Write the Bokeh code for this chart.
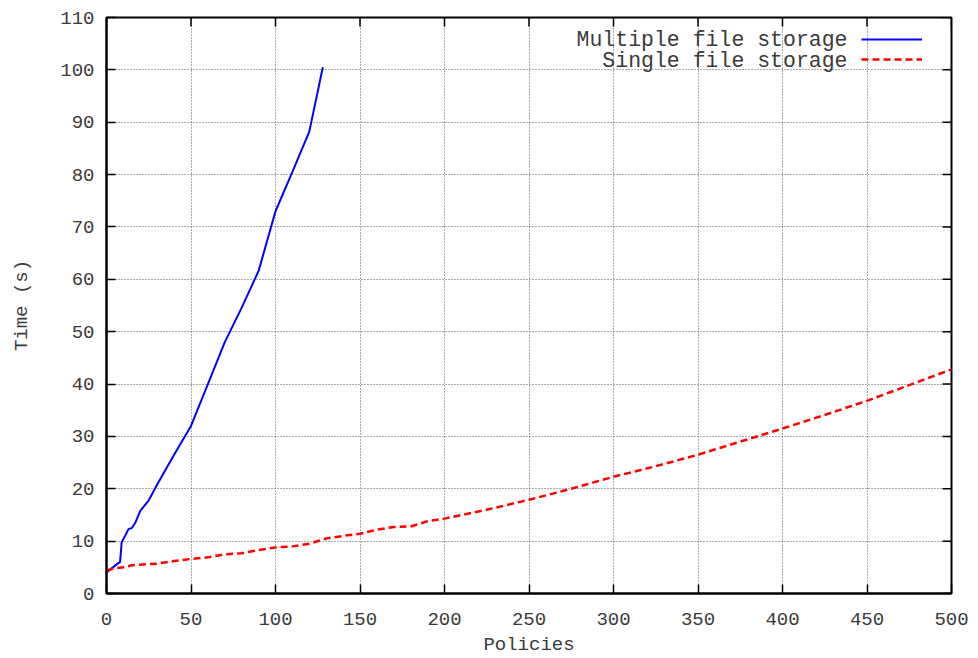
import math
from bokeh.plotting import figure
from bokeh.models import (Range1d, FixedTicker, Legend, LegendItem, Label)
from bokeh.core.properties import value
from bokeh.embed import file_html
from bokeh.resources import INLINE

# --- data ---
multi_x = [0, 3, 7, 8, 9, 11, 13, 15, 17, 20, 25, 30, 40, 50, 60, 70, 80, 90, 100, 110, 120, 128]
multi_y = [4.0, 4.8, 5.8, 6.0, 9.8, 11.0, 12.3, 12.5, 13.5, 15.8, 17.8, 20.8, 26.5, 32.0,
           40.0, 48.0, 54.6, 61.6, 73.0, 80.5, 88.2, 100.5]

single_x = [0, 5, 10, 15, 20, 30, 40, 50, 60, 70, 80, 90, 100, 110, 120, 130, 140, 150,
            160, 170, 180, 190, 200, 225, 250, 275, 300, 325, 350, 375, 400, 425, 450, 475, 500]
single_y = [4.4, 4.8, 5.0, 5.4, 5.5, 5.7, 6.2, 6.6, 6.9, 7.5, 7.7, 8.3, 8.8, 9.0, 9.5, 10.5,
            11.0, 11.4, 12.2, 12.7, 12.8, 13.8, 14.3, 16.0, 17.9, 20.0, 22.3, 24.3, 26.5,
            29.0, 31.5, 34.1, 36.8, 39.8, 42.8]

x_ticks = [0, 50, 100, 150, 200, 250, 300, 350, 400, 450, 500]
y_ticks = [0, 10, 20, 30, 40, 50, 60, 70, 80, 90, 100, 110]

series_labels = ["Multiple file storage", "Single file storage"]
x_title = "Policies"
y_title = "Time (s)"

FONT = "Liberation Mono"
TXT = "#3a3a3a"
W, H = 970, 658

p = figure(width=W, height=H, output_backend="svg", toolbar_location=None,
           x_range=Range1d(x_ticks[0], x_ticks[-1]), y_range=Range1d(y_ticks[0], y_ticks[-1]),
           min_border_left=106, min_border_right=W - 951, min_border_top=17,
           min_border_bottom=H - 593)
p.outline_line_color = "black"
p.outline_line_width = 2
p.background_fill_color = "white"

for g in (p.xgrid[0], p.ygrid[0]):
    g.grid_line_color = "#555555"
    g.grid_line_dash = "1 2"
    g.grid_line_width = 1
p.xgrid.ticker = FixedTicker(ticks=x_ticks)
p.ygrid.ticker = FixedTicker(ticks=y_ticks)

r1 = p.line(multi_x, multi_y, line_color="#0000ff", line_width=2)
r2 = p.line(single_x, single_y, line_color="#ff0000", line_width=2.5, line_dash="7 4")

# mirrored inward ticks on the top and right borders
p.scatter(x_ticks, [y_ticks[-1]] * len(x_ticks), marker="dash", size=18,
          angle=math.pi / 2, line_color="black", line_width=1.5)
p.scatter([x_ticks[-1]] * len(y_ticks), y_ticks, marker="dash", size=18,
          line_color="black", line_width=1.5)

for ax, ticks in ((p.xaxis[0], x_ticks), (p.yaxis[0], y_ticks)):
    ax.ticker = FixedTicker(ticks=ticks)
    ax.major_tick_in = 9
    ax.major_tick_out = 0
    ax.minor_tick_line_color = None
    ax.axis_line_color = "black"
    ax.axis_line_width = 2
    ax.major_tick_line_width = 1.5
    ax.major_label_text_font = FONT
    ax.major_label_text_font_size = "19px"
    ax.major_label_text_color = TXT
    ax.axis_label_text_font = FONT
    ax.axis_label_text_font_size = "19px"
    ax.axis_label_text_font_style = "normal"
    ax.axis_label_text_color = TXT

p.xaxis.axis_label = x_title
p.yaxis.axis_label = y_title
p.xaxis.major_label_standoff = 19
p.xaxis.axis_label_standoff = 6
p.yaxis.major_label_standoff = 12
p.yaxis.axis_label_standoff = 24

legend = Legend(items=[LegendItem(label=value(""), renderers=[r1]),
                       LegendItem(label=value(""), renderers=[r2])],
                location=(755, 524), glyph_width=61, glyph_height=20, label_width=0,
                label_height=20, spacing=0, padding=0, margin=0, label_standoff=0,
                border_line_color=None, background_fill_alpha=0)
p.add_layout(legend, "center")

for i, txt in enumerate(series_labels):
    p.add_layout(Label(x=741, y=554 - 21 * i, x_units="screen", y_units="screen",
                       text=txt, text_align="right", text_baseline="middle",
                       text_font=FONT, text_font_size="21.5px", text_color=TXT))

open("out.html", "w").write(file_html(p, INLINE))
